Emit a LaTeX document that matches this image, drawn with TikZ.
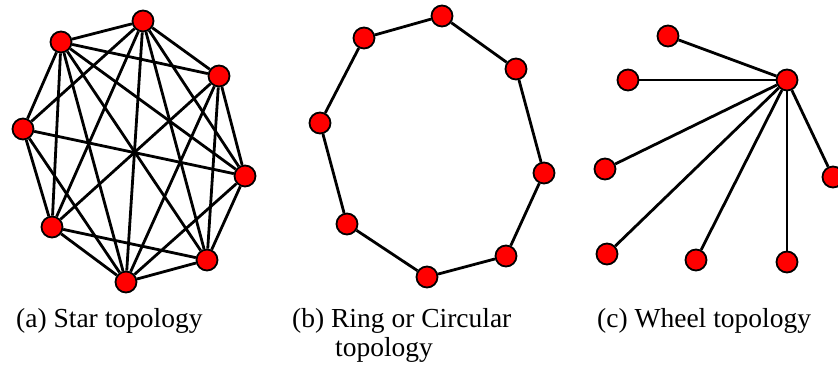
\documentclass[tikz,border=0pt]{standalone}
\usepackage{fontspec}
\setmainfont{Liberation Serif}
\usetikzlibrary{positioning}

\begin{document}
\begin{tikzpicture}[
    x=1pt, y=-1pt,
    % stili
    vertex/.style={circle, draw=black, line width=1.8pt, fill=red, minimum size=21pt, inner sep=0pt},
    link/.style={line width=2.8pt, black},
    caption/.style={anchor=base west, inner sep=0pt, font=\fontsize{27.5}{30}\selectfont}
  ]
  \useasboundingbox (0,0) rectangle (838,367);

  % (a) grafo a maglia
  \foreach \name/\pos in {a1/{(143,21)}, a2/{(61,42)}, a3/{(219,76)}, a4/{(23,129)},
                          a5/{(245,176)}, a6/{(52,227)}, a7/{(207,260)}, a8/{(126,282)}}
    \node[vertex] (\name) at \pos {};
  \foreach \u/\v in {a1/a2, a1/a3, a1/a4, a1/a5, a1/a6, a1/a7, a1/a8,
                     a2/a3, a2/a4, a2/a5, a2/a6, a2/a7, a2/a8,
                     a3/a5, a3/a6, a3/a7, a3/a8,
                     a4/a5, a4/a6, a4/a8,
                     a5/a7, a5/a8,
                     a6/a7, a6/a8,
                     a7/a8}
    \draw[link] (\u) -- (\v);

  % (b) anello
  \foreach \name/\pos in {r1/{(442,16)}, r2/{(516,69)}, r3/{(544,173)}, r4/{(506,256)},
                          r5/{(427,277)}, r6/{(347,224)}, r7/{(320,123)}, r8/{(364,38)}}
    \node[vertex] (\name) at \pos {};
  \foreach \i in {1,...,8}{
    \pgfmathtruncatemacro{\inext}{mod(\i,8)+1}
    \draw[link] (r\i) -- (r\inext);
  }

  % (c) ruota
  \node[vertex] (hub) at (787,80) {};
  \foreach \name/\pos in {s1/{(668,36)}, s2/{(628,80)}, s3/{(605,169)}, s4/{(607,254)},
                          s5/{(696,260)}, s6/{(787,262)}, s7/{(833,177)}}
    \node[vertex] (\name) at \pos {};
  \foreach \i in {1,...,7}
    \draw[link] (hub) -- (s\i);

  % Didascalie
  \node[caption] (capa) at (16,327) {(a) Star topology};
  \node[caption] (capb) at (292,327) {(b) Ring or Circular};
  \node[caption] (capbb) at (335,356) {topology};
  \node[caption] (capc) at (597,327) {(c) Wheel topology};
\end{tikzpicture}
\end{document}
